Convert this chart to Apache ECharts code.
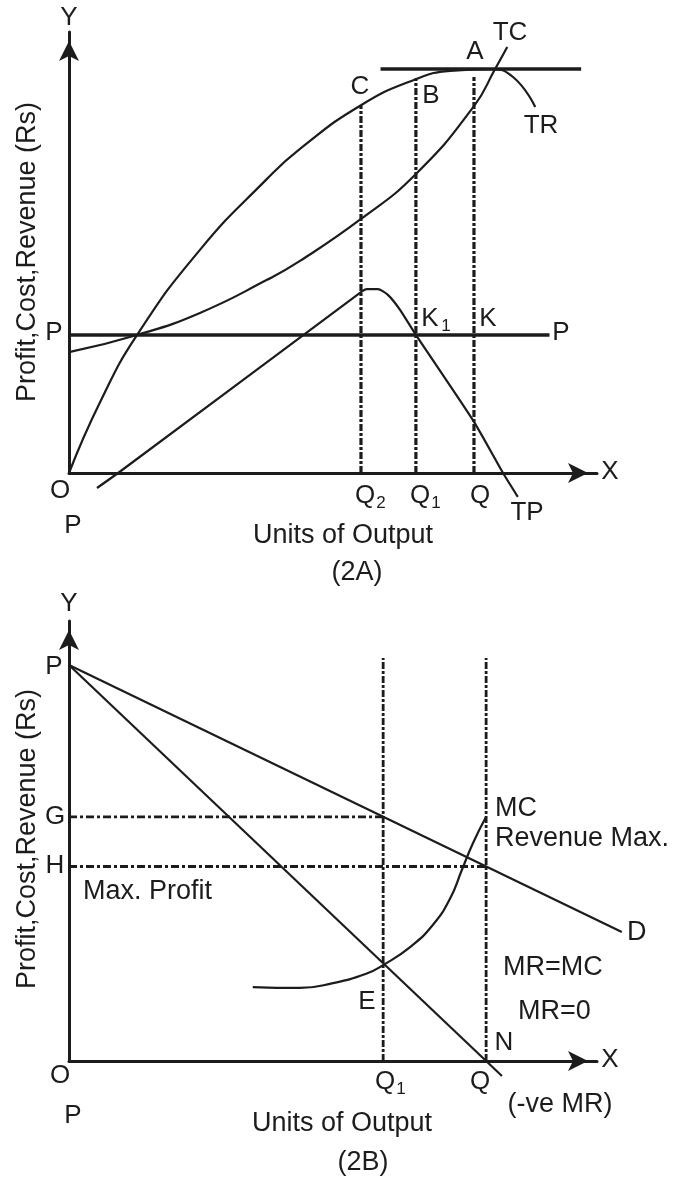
<!DOCTYPE html>
<html>
<head>
<meta charset="utf-8">
<title>Profit, Cost, Revenue</title>
<script src="https://cdn.jsdelivr.net/npm/echarts@6/dist/echarts.min.js"></script>
<style>
  html, body { margin: 0; padding: 0; background: #fff; }
  #chart { width: 684px; height: 1177px; }
</style>
</head>
<body>
<div id="chart"></div>
<script>
// ---- 2A : total revenue / total cost / total profit ----
var trX = [0, 5.9, 12.9, 24.8, 37.5, 43.75, 55.3, 65.7, 72.2, 79.7, 84.1, 88.3];
var trY = [0, 16.1, 31.3, 50.6, 66.7, 73.5, 83.4, 89.3, 91.2, 91.6, 89.8, 83];
var tcX = [0, 12.9, 24.8, 37.5, 43.75, 55.3, 65.7, 76.7, 80.7, 83];
var tcY = [27.4, 31.3, 36.3, 43.8, 48.1, 57.6, 67.8, 83.2, 91.6, 96.6];
var tpX = [5.3, 9.3, 55.3, 56.4, 58.5, 60.4, 62.7, 65.7, 76.7, 82.2, 85];
var tpY = [-3.4, 0, 41, 41.7, 41.7, 40.4, 37, 31.3, 11.6, 0, -5.4];
var minProfit = 31.3;            // P ... P line
var minProfitEnd = 91;
var maxTR = 91.6;                // line through A
var maxTRFrom = 59, maxTRTo = 97;
var qTop = [55.3, 65.7, 76.7];   // Q2, Q1, Q
var qTopHeight = [83.4, 89.5, 89.8];

// ---- 2B : demand (AR), MR, MC ----
var priceP = 90;
var demandX = [0, 104.7];
var demandY = [priceP, 29.3];
var mrX = [0, 82];
var mrY = [priceP, -3.4];
var mcX = [34.8, 43.75, 50, 56.4, 59.5, 64.6, 68.9, 72.2, 74.4, 76.5, 79];
var mcY = [16.8, 16.6, 17.7, 19.9, 21.8, 25.9, 30.9, 37, 43.4, 49.5, 55.5];
var qBottom = [59.5, 79];        // Q1, Q
var qBottomHeight = 91.6;
var levelG = 55.5, levelH = 44.2;

var ink = '#1c1c1c';
var FONT = '"Liberation Sans", Arial, sans-serif';

function pairs(xs, ys) {
    return xs.map(function (x, i) { return [x, ys[i]]; });
}

// data lives on grids 2 (2A) and 3 (2B); grids 0 and 1 only carry the arrowed axes
function line(panel, data, width, extra) {
    var s = {
        type: 'line',
        xAxisIndex: panel + 2,
        yAxisIndex: panel + 2,
        data: data,
        symbol: 'none',
        clip: false,
        silent: true,
        lineStyle: { color: ink, width: width }
    };
    for (var k in extra) s[k] = extra[k];
    if (extra && extra.dash) s.lineStyle.type = extra.dash;
    return s;
}

var dashV = [7, 2, 3, 2];
var dashH = [8, 3, 3, 3];

var series = [
    line(0, pairs(trX, trY), 2.2, { smooth: 0.5 }),
    line(0, pairs(tcX, tcY), 2.2, { smooth: 0.5 }),
    line(0, pairs(tpX, tpY), 2.2, { smooth: 0.2 }),
    line(0, [[0, minProfit], [minProfitEnd, minProfit]], 3.5),
    line(0, [[maxTRFrom, maxTR], [maxTRTo, maxTR]], 3.5),

    line(1, pairs(demandX, demandY), 2.2),
    line(1, pairs(mrX, mrY), 2.2),
    line(1, pairs(mcX, mcY), 2.2, { smooth: 0.5 }),
    line(1, [[0, levelG], [qBottom[0], levelG]], 2.8, { dash: dashH }),
    line(1, [[0, levelH], [qBottom[1], levelH]], 2.8, { dash: dashH })
];
qTop.forEach(function (q, i) {
    series.push(line(0, [[q, 0], [q, qTopHeight[i]]], 3.2, { dash: dashV }));
});
qBottom.forEach(function (q) {
    series.push(line(1, [[q, 0], [q, qBottomHeight]], 2.8, { dash: dashV }));
});

function axis(idx, max, visible) {
    return {
        type: 'value', gridIndex: idx, min: 0, max: max, show: visible,
        axisLine: {
            show: true, onZero: false,
            symbol: ['none', 'arrow'], symbolSize: [15, 20], symbolOffset: [0, -9],
            lineStyle: { color: ink, width: 3 }
        },
        axisTick: { show: false }, axisLabel: { show: false }, splitLine: { show: false }
    };
}

function txt(x, y, s, size, align) {
    return {
        type: 'text', x: x, y: y, silent: true,
        style: {
            text: s, font: (size || 26) + 'px ' + FONT, fill: ink,
            align: align || 'center', verticalAlign: 'middle',
            textAlign: align || 'center', textVerticalAlign: 'middle'
        }
    };
}

function sub(x, y, main, s) {
    return [txt(x, y, main, 26), txt(x + 16, y + 7, s, 17)];
}

var labels = [
    // 2A
    txt(69, 18, 'Y'), txt(510, 33, 'TC'), txt(475, 52, 'A'), txt(360, 87, 'C'),
    txt(431, 96, 'B'), txt(541, 126, 'TR'), txt(488, 319, 'K'),
    txt(561, 333, 'P'), txt(54, 333, 'P'), txt(60, 491, 'O'), txt(610, 472, 'X'),
    txt(480, 496, 'Q'), txt(527, 513, 'TP'), txt(73, 526, 'P'),
    txt(343, 536, 'Units of Output', 27), txt(357, 573, '(2A)', 27),
    // 2B
    txt(69, 604, 'Y'), txt(54, 667, 'P'), txt(55, 817, 'G'), txt(55, 866, 'H'),
    txt(83, 892, 'Max. Profit', 27, 'left'),
    txt(495, 809, 'MC', 27, 'left'), txt(495, 839, 'Revenue Max.', 27, 'left'),
    txt(627, 933, 'D', 27, 'left'),
    txt(503, 968, 'MR=MC', 27, 'left'), txt(518, 1012, 'MR=0', 27, 'left'),
    txt(504, 1043, 'N'), txt(367, 1002, 'E'), txt(60, 1076, 'O'), txt(610, 1060, 'X'),
    txt(480, 1082, 'Q'), txt(560, 1105, '(-ve MR)', 27), txt(73, 1116, 'P'),
    txt(342, 1124, 'Units of Output', 27), txt(363, 1163, '(2B)', 27)
];
labels = labels.concat(sub(365, 496, 'Q', '2'), sub(420, 496, 'Q', '1'),
    sub(430, 319, 'K', '1'), sub(385, 1082, 'Q', '1'));

var yTitle = function (y) {
    var t = txt(28, y, 'Profit,Cost,Revenue (Rs)', 27);
    t.rotation = Math.PI / 2;
    return t;
};
labels.push(yTitle(252), yTitle(839));

var chart = echarts.init(document.getElementById('chart'), null, { renderer: 'canvas' });
chart.setOption({
    animation: false,
    backgroundColor: '#fff',
    grid: [
        { left: 69, top: 32, width: 528, height: 441 },
        { left: 69, top: 621, width: 528, height: 440 },
        // same scale (5.28 px per unit) but wider, so D and TR can run past the arrows
        { left: 69, top: 32, width: 607.2, height: 441 },
        { left: 69, top: 621, width: 607.2, height: 440 }
    ],
    xAxis: [axis(0, 100, true), axis(1, 100, true), axis(2, 115, false), axis(3, 115, false)],
    yAxis: [axis(0, 100, true), axis(1, 100, true), axis(2, 100, false), axis(3, 100, false)],
    series: series,
    graphic: labels
});
</script>
</body>
</html>
